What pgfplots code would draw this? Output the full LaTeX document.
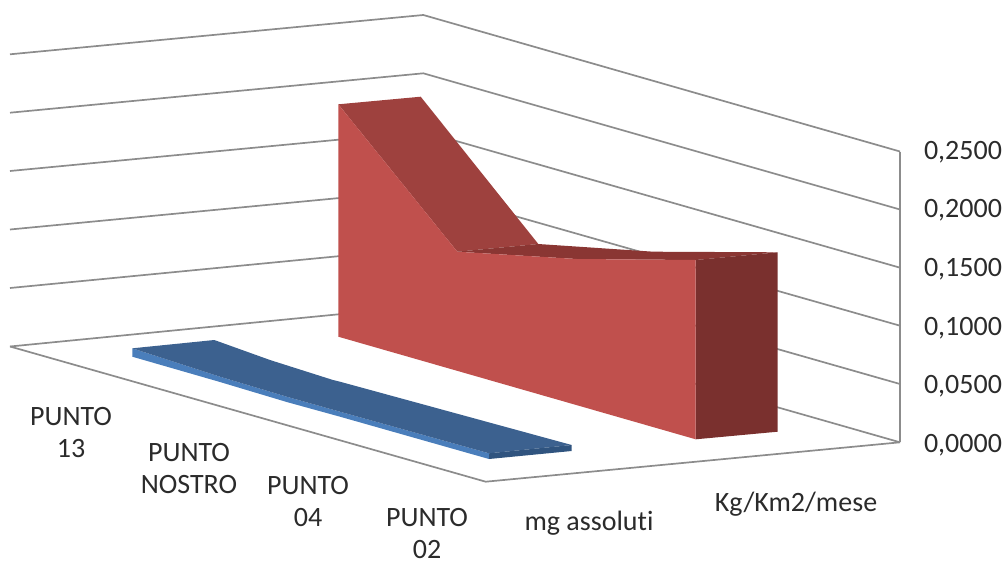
\documentclass[border=0pt]{standalone}
\usepackage{fontspec}
\setmainfont[Ligatures=NoCommon]{Carlito}
\usepackage{pgfplots}
\pgfplotsset{compat=1.18}
\definecolor{gridgray}{HTML}{8C8C8C}
\definecolor{redfront}{HTML}{C0504D}
\definecolor{redtop}{HTML}{9E413E}
\definecolor{redflat}{HTML}{8A3633}
\definecolor{redside}{HTML}{7A302E}
\definecolor{bluetop}{HTML}{3C618F}
\definecolor{blueside}{HTML}{30547F}
\definecolor{bluefront}{HTML}{4A7EBB}
\definecolor{labelcol}{HTML}{2B2B2B}
\tikzset{
    gridln/.style={draw=gridgray, line width=1.7pt},
    cat/.style={font=\fontsize{28}{32}\selectfont, text=labelcol, align=center, inner sep=0pt, anchor=center},
    val/.style={font=\fontsize{28}{32}\selectfont, text=labelcol, inner sep=0pt, anchor=center},
}
\begin{document}
\begin{tikzpicture}
\useasboundingbox (0,0) rectangle (1008pt,562pt);
\begin{axis}[
    at={(0,0)}, anchor=south west,
    scale only axis, width=1008pt, height=562pt,
    xmin=0, xmax=1008, ymin=0, ymax=562,
    y dir=reverse,
    hide axis,
    clip=false,
    no markers,
]
% walls, back corner at x=423 (pixel coordinates of the 3d view)
\addplot[gridln] coordinates {(10,54.3) (423.3,15) (900,151.5)};
\addplot[gridln] coordinates {(10,112.7) (423.3,73.3) (900,209.5)};
\addplot[gridln] coordinates {(10,171) (423.3,131.6) (900,267.7)};
\addplot[gridln] coordinates {(10,229.5) (423.3,190) (900,325.7)};
\addplot[gridln] coordinates {(10,288) (423.3,248) (900,384)};
\addplot[gridln] coordinates {(10,346.5) (423.3,306) (900,442.3)};
% right edge and floor
\addplot[gridln] coordinates {(900,151.5) (900,442.3)};
\addplot[gridln] coordinates {(10,346.5) (485.7,481.7) (900,442.3)};

% series 1, mg assoluti (blue, almost flat)
\addplot[fill=bluefront, draw=none] coordinates {(132.3,348.3) (220,376.7) (286.7,396.7) (340,411.7) (489,453.3) (489,459) (340,416.7) (286.7,402) (220,382) (132.3,356.7)} --cycle;
\addplot[fill=bluetop, draw=none] coordinates {(132.3,348.3) (214.3,340) (270,360) (333,380) (340,381.7) (571.7,445) (489,453.3) (340,411.7) (286.7,396.7) (220,376.7)} --cycle;
\addplot[fill=blueside, draw=none] coordinates {(489,453.3) (571.7,445) (571.7,451) (489,459)} --cycle;

% series 2, Kg/Km2/mese (red)
\addplot[fill=redtop, draw=none] coordinates {(338.3,104.3) (420.7,96.7) (538.3,244) (457.3,251.7)} --cycle;
\addplot[fill=redflat, draw=none] coordinates {(457.3,251.7) (538.3,244) (653.3,251.7) (777.7,252.3) (695.7,260) (576.7,259)} --cycle;
\addplot[fill=redside, draw=none] coordinates {(695.7,260) (777.7,252.3) (777.7,431.7) (695.7,439.3)} --cycle;
\addplot[fill=redfront, draw=none] coordinates {(338.3,104.3) (457.3,251.7) (576.7,259) (695.7,260) (695.7,439.3) (338.3,336.7)} --cycle;

% value axis labels
\node[val] at (axis cs:963,152) {0,2500};
\node[val] at (axis cs:963,210) {0,2000};
\node[val] at (axis cs:963,269) {0,1500};
\node[val] at (axis cs:963,328) {0,1000};
\node[val] at (axis cs:963,386) {0,0500};
\node[val] at (axis cs:963,445) {0,0000};

% category labels
\node[cat] at (axis cs:71,433) {PUNTO\\13};
\node[cat] at (axis cs:189,469) {PUNTO\\NOSTRO};
\node[cat] at (axis cs:308,502) {PUNTO\\04};
\node[cat] at (axis cs:427,533.5) {PUNTO\\02};
\node[cat] at (axis cs:589,523) {mg assoluti};
\node[cat] at (axis cs:796,504) {Kg/Km2/mese};
\end{axis}
\end{tikzpicture}
\end{document}
